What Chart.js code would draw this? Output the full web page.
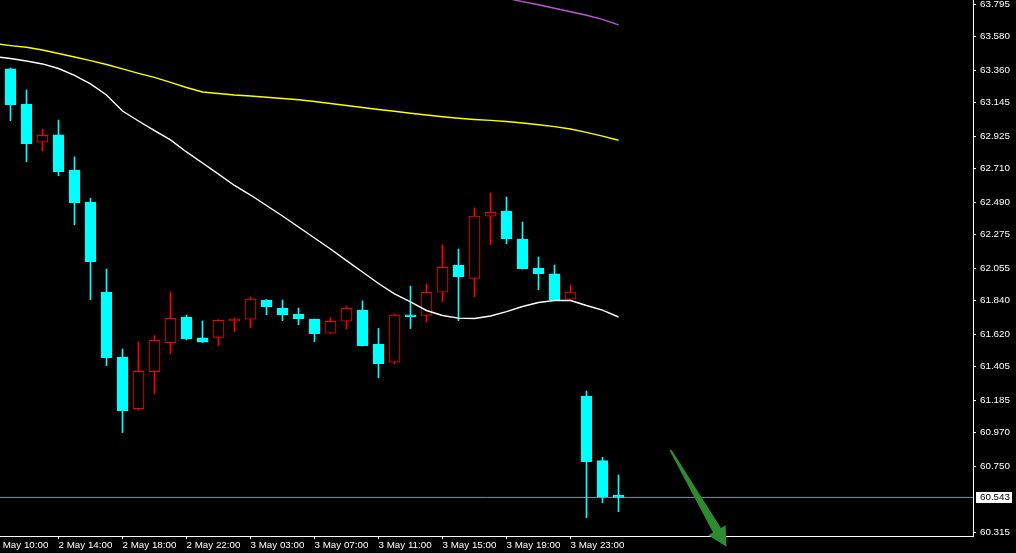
<!DOCTYPE html>
<html>
<head>
<meta charset="utf-8">
<script src="https://cdn.jsdelivr.net/npm/chart.js@4.4.1/dist/chart.umd.min.js"></script>
<style>
html,body{margin:0;padding:0;background:#000;overflow:hidden}
canvas{display:block}
</style>
</head>
<body>
<canvas id="c" width="1016" height="553"></canvas>
<script>
// ---- Data (hourly bars, index 0 = 2 May 11:00) ----
const barIndex = [0,1,2,3,4,5,6,7,8,9,10,11,12,13,14,15,16,17,18,19,20,21,22,23,24,25,26,27,28,29,30,31,32,33,34,35,36,37,38];
const openP  = [63.367,63.136,62.884,62.932,62.701,62.490,61.897,61.468,61.128,61.372,61.563,61.732,61.594,61.598,61.706,61.717,61.844,61.791,61.752,61.719,61.625,61.704,61.778,61.554,61.434,61.745,61.743,61.895,62.075,61.987,62.396,62.431,62.246,62.055,62.016,61.849,61.211,60.785,60.556];
const highP  = [63.373,63.228,62.971,63.030,62.787,62.514,62.048,61.521,61.567,61.609,61.897,61.745,61.706,61.715,61.726,61.864,61.847,61.844,61.791,61.719,61.726,61.805,61.838,61.657,61.752,61.936,61.950,62.207,62.180,62.451,62.549,62.523,62.358,62.128,62.075,61.943,61.244,60.807,60.691];
const lowP   = [63.026,62.756,62.828,62.663,62.340,61.846,61.411,60.970,61.119,61.227,61.490,61.581,61.564,61.543,61.635,61.662,61.747,61.708,61.681,61.569,61.622,61.655,61.541,61.332,61.424,61.656,61.701,61.833,61.708,61.866,62.209,62.215,62.048,61.912,61.844,61.848,60.409,60.508,60.449];
const closeP = [63.131,62.874,62.930,62.690,62.485,62.097,61.464,61.115,61.374,61.579,61.724,61.587,61.567,61.710,61.712,61.851,61.800,61.747,61.721,61.622,61.704,61.789,61.543,61.424,61.745,61.734,61.895,62.060,61.998,62.398,62.422,62.248,62.050,62.017,61.846,61.897,60.778,60.546,60.543];

// Moving averages (index -1 is the bar just left of the window)
const maIndex = [-1,0,1,2,3,4,5,6,7,8,9,10,11,12,13,14,15,16,17,18,19,20,21,22,23,24,25,26,27,28,29,30,31,32,33,34,35,36,37,38];
const whiteMA  = [63.449,63.436,63.419,63.400,63.370,63.324,63.268,63.195,63.090,63.024,62.961,62.899,62.820,62.747,62.674,62.599,62.536,62.467,62.398,62.325,62.253,62.180,62.104,62.029,61.953,61.884,61.831,61.775,61.742,61.725,61.722,61.739,61.768,61.801,61.828,61.841,61.841,61.808,61.778,61.732];
const yellowMA = [63.534,63.521,63.510,63.492,63.469,63.446,63.422,63.396,63.367,63.338,63.311,63.278,63.245,63.215,63.205,63.195,63.189,63.180,63.172,63.164,63.152,63.139,63.126,63.113,63.100,63.088,63.075,63.063,63.052,63.042,63.034,63.028,63.021,63.011,62.999,62.987,62.971,62.949,62.924,62.897];
const purpleIndex = [30,31,32,33,34,35,36,37,38];
const purpleMA    = [63.854,63.833,63.811,63.790,63.767,63.744,63.721,63.694,63.657];

const yTicks = [63.795,63.580,63.360,63.145,62.925,62.710,62.490,62.275,62.055,61.840,61.620,61.405,61.185,60.970,60.750,60.315];
const xTickIndex  = [-1,3,7,11,15,19,23,27,31,35];
const xTickLabels = ["2 May 10:00","2 May 14:00","2 May 18:00","2 May 22:00","3 May 03:00","3 May 07:00","3 May 11:00","3 May 15:00","3 May 19:00","3 May 23:00"];

const BID = 60.543;
const arrowFrom = {x: 41.25, y: 60.855};
const arrowTo   = {x: 44.75, y: 60.218};

const X_MIN = -0.65625, X_MAX = 60.15625;
const Y_MIN = 60.2887, Y_MAX = 63.8214;

const CYAN = '#00ffff', RED = '#ff0000';
const isBull = i => closeP[i] > openP[i];

const wickData = barIndex.map((k,i) => ({x:k, y:[lowP[i], highP[i]]}));
const bodyData = barIndex.map((k,i) => ({x:k, y:[openP[i], closeP[i]]}));
const toXY = (xs, ys) => xs.map((x,i) => ({x, y: ys[i]}));

const FONT = {family: 'Liberation Sans', size: 9.8};

const overlay = {
  id: 'overlay',
  afterDraw(chart) {
    const ctx = chart.ctx;
    const xs = chart.scales.x, ys = chart.scales.y;
    // current price label
    const py = ys.getPixelForValue(BID);
    ctx.save();
    ctx.fillStyle = '#ffffff';
    ctx.fillRect(976, Math.round(py) - 5, 36, 11);
    ctx.fillStyle = '#000000';
    ctx.font = '9.8px "Liberation Sans"';
    ctx.textBaseline = 'middle';
    ctx.textAlign = 'left';
    ctx.fillText(BID.toFixed(3), 980, Math.round(py) + 0.5);
    // arrow
    const x0 = xs.getPixelForValue(arrowFrom.x), y0 = ys.getPixelForValue(arrowFrom.y);
    const x1 = xs.getPixelForValue(arrowTo.x),   y1 = ys.getPixelForValue(arrowTo.y);
    const dx = x1 - x0, dy = y1 - y0, len = Math.hypot(dx, dy);
    const ux = dx/len, uy = dy/len, nx = -uy, ny = ux;
    const headLen = 19, headW = 10, shaftW = 4.6, tailW = 1;
    const bx = x1 - ux*headLen, by = y1 - uy*headLen;
    ctx.fillStyle = '#2e8b30';
    ctx.beginPath();
    ctx.moveTo(x0 + nx*tailW, y0 + ny*tailW);
    ctx.lineTo(bx + nx*shaftW, by + ny*shaftW);
    ctx.lineTo(bx + nx*headW, by + ny*headW);
    ctx.lineTo(x1, y1);
    ctx.lineTo(bx - nx*headW, by - ny*headW);
    ctx.lineTo(bx - nx*shaftW, by - ny*shaftW);
    ctx.lineTo(x0 - nx*tailW, y0 - ny*tailW);
    ctx.closePath();
    ctx.fill();
    ctx.restore();
  }
};

new Chart(document.getElementById('c'), {
  type: 'bar',
  data: {
    datasets: [
      {
        type: 'line', label: 'bid', order: 5,
        data: [{x: X_MIN, y: BID}, {x: X_MAX, y: BID}],
        borderColor: '#7f8fa6', borderWidth: 1, pointRadius: 0
      },
      {
        label: 'wicks', order: 4, grouped: false,
        data: wickData, barThickness: 1, borderWidth: 0,
        backgroundColor: ctx => isBull(ctx.dataIndex) ? RED : CYAN
      },
      {
        label: 'bodies', order: 3, grouped: false,
        data: bodyData, barThickness: 11, borderWidth: 1, borderSkipped: false, minBarLength: 2,
        backgroundColor: ctx => isBull(ctx.dataIndex) ? '#000000' : CYAN,
        borderColor: ctx => isBull(ctx.dataIndex) ? RED : CYAN
      },
      {
        type: 'line', label: 'MA white', order: 1,
        data: toXY(maIndex, whiteMA), borderColor: '#ffffff', borderWidth: 1.4, pointRadius: 0, tension: 0
      },
      {
        type: 'line', label: 'MA yellow', order: 1,
        data: toXY(maIndex, yellowMA), borderColor: '#ffff00', borderWidth: 1.4, pointRadius: 0, tension: 0
      },
      {
        type: 'line', label: 'MA purple', order: 1,
        data: toXY(purpleIndex, purpleMA), borderColor: '#ba55d3', borderWidth: 1.4, pointRadius: 0, tension: 0
      }
    ]
  },
  options: {
    responsive: false,
    animation: false,
    devicePixelRatio: 1,
    layout: {padding: 0},
    plugins: {legend: {display: false}, tooltip: {enabled: false}},
    scales: {
      x: {
        type: 'linear', position: 'bottom', offset: false,
        min: X_MIN, max: X_MAX,
        afterBuildTicks: s => { s.ticks = xTickIndex.map(v => ({value: v})); },
        afterFit: s => { s.height = 17; s.paddingLeft = 0; s.paddingRight = 0; },
        grid: {offset: false, drawOnChartArea: false, drawTicks: true, tickLength: 3, tickColor: '#ffffff'},
        border: {display: true, color: '#ffffff', width: 1},
        ticks: {
          autoSkip: false, maxRotation: 0, minRotation: 0, align: 'start', padding: 0,
          color: '#ffffff', font: FONT,
          callback: (v, i) => xTickLabels[i]
        }
      },
      y: {
        type: 'linear', position: 'right',
        min: Y_MIN, max: Y_MAX,
        afterBuildTicks: s => { s.ticks = yTicks.map(v => ({value: v})); },
        afterFit: s => { s.width = 43; s.paddingTop = 0; s.paddingBottom = 0; },
        grid: {drawOnChartArea: false, drawTicks: true, tickLength: 3, tickColor: '#ffffff'},
        border: {display: true, color: '#ffffff', width: 1},
        ticks: {
          autoSkip: false, padding: 4, color: '#ffffff', font: FONT,
          callback: v => Number(v).toFixed(3)
        }
      }
    }
  },
  plugins: [overlay]
});
</script>
</body>
</html>
